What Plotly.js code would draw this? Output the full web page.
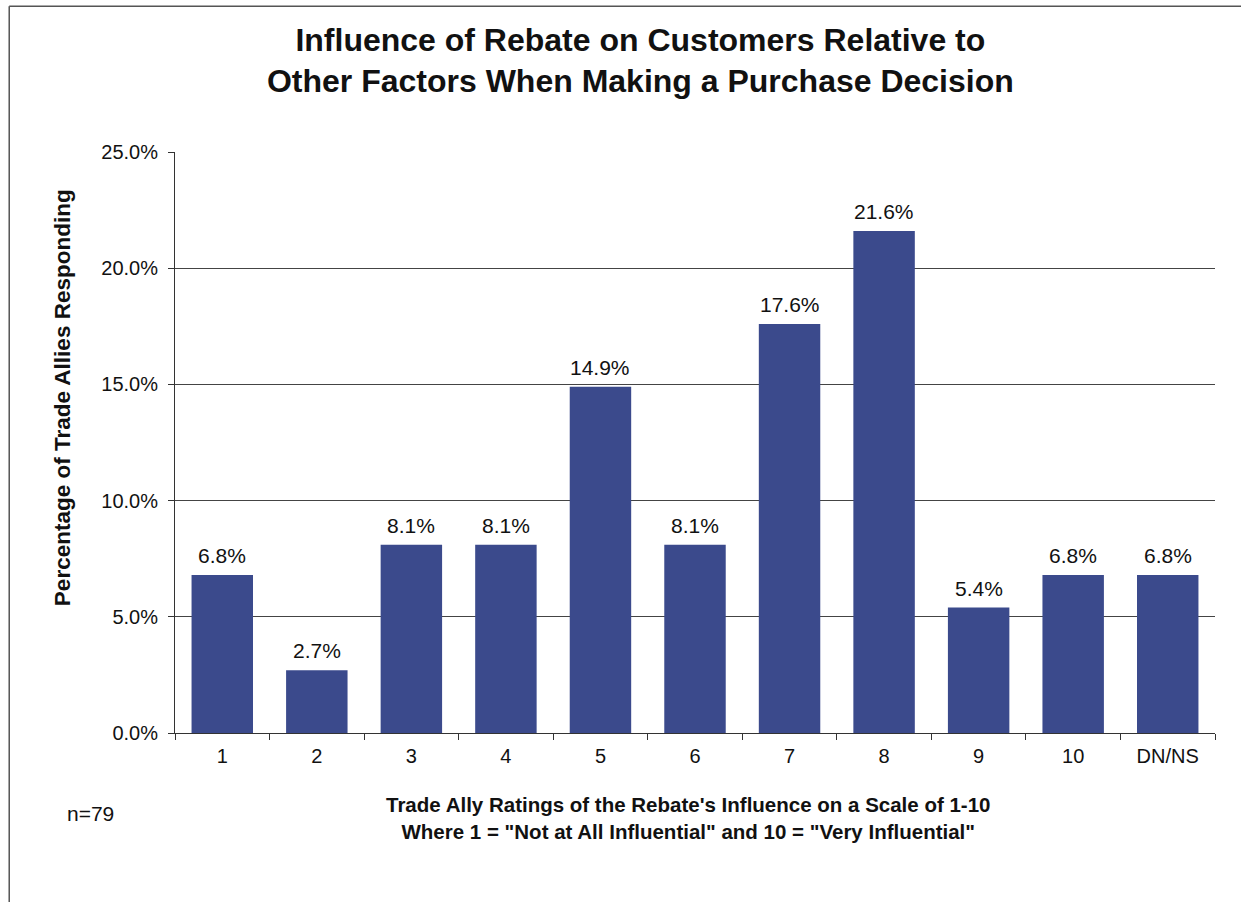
<!DOCTYPE html>
<html>
<head>
<meta charset="utf-8">
<script src="https://cdn.plot.ly/plotly-3.0.1.min.js"></script>
<style>html,body{margin:0;padding:0;background:#fff;}#chart{width:1241px;height:902px;}</style>
</head>
<body>
<div id="chart"></div>
<script>
var categories = ["1","2","3","4","5","6","7","8","9","10","DN/NS"];
var percentResponding = [6.8, 2.7, 8.1, 8.1, 14.9, 8.1, 17.6, 21.6, 5.4, 6.8, 6.8];
var yTickValues = [0, 5, 10, 15, 20, 25];
var yTickLabels = ["0.0%", "5.0%", "10.0%", "15.0%", "20.0%", "25.0%"];

var font = "Liberation Sans, Arial, sans-serif";
var trace = {
  type: "bar",
  x: categories,
  y: percentResponding,
  marker: {color: "#3b4a8c"},
  hoverinfo: "none"
};
// category axis: annotation x is the category index
var barLabels = categories.map(function(c, i){
  return {
    x: i, y: percentResponding[i], xref: "x", yref: "y",
    text: percentResponding[i].toFixed(1) + "%",
    showarrow: false, yanchor: "bottom", yshift: 6,
    font: {family: font, size: 21, color: "#111"}
  };
});
var layout = {
  width: 1241, height: 902,
  paper_bgcolor: "#fff", plot_bgcolor: "#fff",
  margin: {l: 175, r: 26, t: 152, b: 169},
  bargap: 0.35,
  showlegend: false,
  title: {
    text: "<b>Influence of Rebate on Customers Relative to<br>Other Factors When Making a Purchase Decision</b>",
    font: {family: font, size: 32, color: "#111"},
    x: 0.516, xanchor: "center", y: 0.944, yanchor: "top", yref: "container"
  },
  xaxis: {
    type: "category",
    showgrid: false,
    showline: true, linecolor: "#333", linewidth: 1,
    ticks: "outside", tickson: "boundaries", ticklen: 6, tickcolor: "#333",
    ticklabelstandoff: 5,
    tickfont: {family: font, size: 20, color: "#111"},
    zeroline: false
  },
  yaxis: {
    range: [0, 25],
    tickvals: yTickValues, ticktext: yTickLabels,
    showgrid: true, gridcolor: "#444", gridwidth: 1,
    showline: true, linecolor: "#333", linewidth: 1,
    ticks: "outside", ticklen: 6, tickcolor: "#333",
    ticklabelstandoff: 6,
    tickfont: {family: font, size: 20, color: "#111"},
    zeroline: false
  },
  annotations: barLabels.concat([
    {text: "<b>Percentage of Trade Allies Responding</b>", textangle: -90,
     xref: "paper", yref: "paper", x: -0.1087, y: 0.578, xanchor: "center", yanchor: "middle", showarrow: false,
     font: {family: font, size: 22.5, color: "#111"}},
    {text: "<b>Trade Ally Ratings of the Rebate's Influence on a Scale of 1-10<br>Where 1 = \"Not at All Influential\" and 10 = \"Very Influential\"</b>",
     xref: "paper", yref: "paper", x: 0.493, y: -0.1, xanchor: "center", yanchor: "top", showarrow: false,
     font: {family: font, size: 20.5, color: "#111"}},
    {text: "n=79", xref: "paper", yref: "paper", x: -0.106, y: -0.139, xanchor: "left", yanchor: "middle", showarrow: false,
     font: {family: font, size: 21, color: "#111"}}
  ]),
  shapes: [
    {type: "line", xref: "paper", yref: "paper", x0: -0.1594, x1: -0.1594, y0: -0.5, y1: 1.251, line: {color: "#555", width: 1.5}},
    {type: "line", xref: "paper", yref: "paper", x0: -0.1594, x1: 1.04, y0: 1.251, y1: 1.251, line: {color: "#555", width: 1.5}}
  ]
};
Plotly.newPlot("chart", [trace], layout, {displayModeBar: false, staticPlot: true});
</script>
</body>
</html>
